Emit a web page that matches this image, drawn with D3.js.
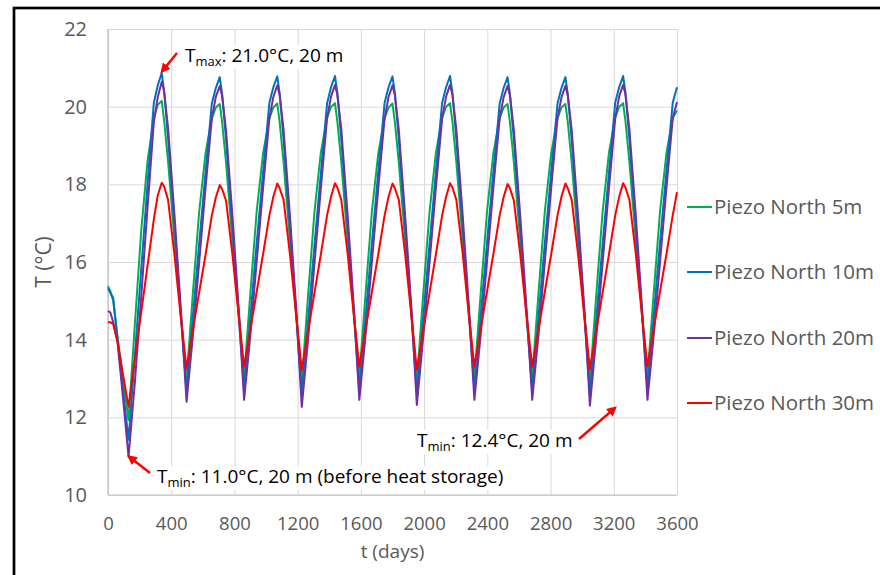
<!DOCTYPE html>
<html>
<head>
<meta charset="utf-8">
<script src="https://cdn.jsdelivr.net/npm/d3@7"></script>
<style>
  body { margin: 0; background: #fff; }
  svg { display: block; }
  text { font-family: "Open Sans", "Noto Sans", sans-serif; }
</style>
</head>
<body>
<div id="chart"></div>
<script>
// Time axis (days) shared by all four piezometers
const days = [
  0, 15, 33, 60, 95,
  130, 170, 210, 250, 290, 315, 340, 355, 380, 420, 460,
  497, 537, 577, 617, 657, 682, 707, 722, 747, 787, 827,
  861, 901, 941, 981, 1021, 1046, 1071, 1086, 1111, 1151, 1191,
  1226, 1266, 1306, 1346, 1386, 1411, 1436, 1451, 1476, 1516, 1556,
  1590, 1630, 1670, 1710, 1750, 1775, 1800, 1815, 1840, 1880, 1920,
  1954, 1994, 2034, 2074, 2114, 2139, 2164, 2179, 2204, 2244, 2284,
  2318, 2358, 2398, 2438, 2478, 2503, 2528, 2543, 2568, 2608, 2648,
  2684, 2724, 2764, 2804, 2844, 2869, 2894, 2909, 2934, 2974, 3014,
  3049, 3089, 3129, 3169, 3209, 3234, 3259, 3274, 3299, 3339, 3379,
  3413, 3453, 3493, 3533, 3573, 3600
];

const piezo5m = [
  15.38, 15.25, 15.0, 14.1, 13.0,
  11.93, 14.4, 16.8, 18.6, 19.7, 20.05, 20.15, 19.65, 18.6, 16.6, 14.7,
  12.98, 15.2, 17.3, 18.8, 19.7, 19.98, 20.07, 19.6, 18.55, 16.55, 14.7,
  13.02, 15.22, 17.32, 18.8, 19.7, 19.98, 20.08, 19.6, 18.56, 16.56, 14.7,
  12.9, 15.15, 17.28, 18.8, 19.71, 20.0, 20.09, 19.62, 18.57, 16.56, 14.7,
  13.02, 15.22, 17.32, 18.8, 19.7, 19.98, 20.08, 19.6, 18.56, 16.56, 14.7,
  12.92, 15.16, 17.28, 18.8, 19.71, 20.0, 20.09, 19.62, 18.57, 16.56, 14.7,
  13.0, 15.2, 17.3, 18.8, 19.7, 19.98, 20.07, 19.6, 18.55, 16.55, 14.7,
  13.02, 15.22, 17.32, 18.8, 19.7, 19.98, 20.07, 19.6, 18.55, 16.55, 14.7,
  12.9, 15.15, 17.28, 18.8, 19.71, 20.0, 20.09, 19.62, 18.57, 16.56, 14.7,
  13.04, 15.22, 17.32, 18.8, 19.7, 19.9
];

const piezo10m = [
  15.32, 15.2, 15.07, 14.0, 12.7,
  11.42, 13.6, 15.8, 18.0, 20.1, 20.55, 20.87, 20.4, 19.2, 16.95, 14.65,
  12.68, 14.58, 16.48, 18.3, 20.08, 20.48, 20.76, 20.33, 19.15, 16.9, 14.6,
  12.72, 14.6, 16.5, 18.3, 20.1, 20.5, 20.78, 20.35, 19.15, 16.92, 14.6,
  12.58, 14.5, 16.42, 18.25, 20.08, 20.5, 20.79, 20.36, 19.17, 16.9, 14.62,
  12.72, 14.6, 16.5, 18.32, 20.1, 20.5, 20.78, 20.35, 19.15, 16.9, 14.6,
  12.62, 14.55, 16.45, 18.28, 20.1, 20.5, 20.79, 20.36, 19.16, 16.9, 14.6,
  12.72, 14.6, 16.5, 18.3, 20.08, 20.48, 20.76, 20.33, 19.15, 16.9, 14.62,
  12.72, 14.6, 16.5, 18.3, 20.08, 20.48, 20.76, 20.33, 19.14, 16.88, 14.6,
  12.6, 14.52, 16.44, 18.27, 20.1, 20.5, 20.79, 20.36, 19.17, 16.9, 14.62,
  12.74, 14.62, 16.52, 18.32, 20.1, 20.5
];

const piezo20m = [
  14.74, 14.7, 14.45, 13.95, 12.5,
  10.99, 12.9, 15.1, 17.4, 19.6, 20.25, 20.64, 20.4, 19.45, 17.25, 14.85,
  12.40, 14.1, 16.0, 17.9, 19.7, 20.25, 20.53, 20.28, 19.38, 17.2, 14.8,
  12.45, 14.12, 16.02, 17.9, 19.7, 20.25, 20.55, 20.3, 19.4, 17.2, 14.78,
  12.27, 14.0, 15.95, 17.86, 19.7, 20.26, 20.56, 20.31, 19.42, 17.22, 14.8,
  12.45, 14.12, 16.02, 17.9, 19.7, 20.25, 20.55, 20.3, 19.4, 17.2, 14.8,
  12.32, 14.05, 15.97, 17.88, 19.7, 20.26, 20.56, 20.31, 19.41, 17.21, 14.8,
  12.45, 14.12, 16.02, 17.9, 19.7, 20.24, 20.54, 20.29, 19.39, 17.2, 14.8,
  12.45, 14.12, 16.02, 17.9, 19.7, 20.24, 20.54, 20.29, 19.39, 17.2, 14.78,
  12.30, 14.04, 15.96, 17.87, 19.7, 20.26, 20.56, 20.31, 19.41, 17.22, 14.8,
  12.45, 14.12, 16.02, 17.9, 19.7, 20.12
];

const piezo30m = [
  14.45, 14.45, 14.4, 13.95, 13.1,
  12.27, 13.5, 14.7, 15.9, 17.1, 17.72, 18.04, 17.95, 17.6, 16.2, 14.6,
  13.26, 14.25, 15.22, 16.18, 17.2, 17.66, 17.98, 17.88, 17.58, 16.2, 14.62,
  13.30, 14.27, 15.24, 16.2, 17.2, 17.68, 18.02, 17.9, 17.6, 16.2, 14.6,
  13.22, 14.22, 15.2, 16.18, 17.2, 17.68, 18.03, 17.92, 17.6, 16.22, 14.6,
  13.31, 14.27, 15.24, 16.2, 17.2, 17.68, 18.02, 17.9, 17.6, 16.2, 14.6,
  13.22, 14.22, 15.2, 16.18, 17.2, 17.68, 18.03, 17.92, 17.6, 16.22, 14.6,
  13.30, 14.27, 15.24, 16.2, 17.2, 17.67, 18.01, 17.9, 17.58, 16.2, 14.62,
  13.30, 14.27, 15.24, 16.2, 17.2, 17.68, 18.02, 17.9, 17.6, 16.2, 14.6,
  13.24, 14.23, 15.2, 16.18, 17.2, 17.68, 18.03, 17.92, 17.6, 16.22, 14.6,
  13.32, 14.28, 15.25, 16.2, 17.2, 17.8
];

const seriesNames = ["Piezo North 5m", "Piezo North 10m", "Piezo North 20m", "Piezo North 30m"];
const seriesColors = ["#00b050", "#0070c0", "#7030a0", "#ff0000"];
const seriesValues = [piezo5m, piezo10m, piezo20m, piezo30m];

const xTicks = [0, 400, 800, 1200, 1600, 2000, 2400, 2800, 3200, 3600];
const yTicks = [10, 12, 14, 16, 18, 20, 22];

// annotation texts (T + subscript + rest) and the point each arrow marks
const notes = [
  { sub: "max", rest: ": 21.0°C, 20 m", tip: [340, 20.9] },
  { sub: "min", rest: ": 11.0°C, 20 m (before heat storage)", tip: [130, 11.0] },
  { sub: "min", rest: ": 12.4°C, 20 m", tip: [3210, 12.25] }
];

const width = 880, height = 575;
const margin = { left: 108, right: 203, top: 29, bottom: 80 };

const svg = d3.select("#chart").append("svg")
    .attr("width", width)
    .attr("height", height);

// outer frame of the figure (runs off right/bottom edge)
svg.append("rect")
    .attr("x", 14).attr("y", 8)
    .attr("width", 900).attr("height", 600)
    .attr("fill", "none")
    .attr("stroke", "#000")
    .attr("stroke-width", 2.7);

const x = d3.scaleLinear([0, 3600], [margin.left, width - margin.right]);
const y = d3.scaleLinear([10, 22], [height - margin.bottom, margin.top]);

// gridlines
svg.append("g")
    .attr("transform", `translate(0,${y(10)})`)
    .call(d3.axisBottom(x).tickValues(xTicks).tickSize(-(y(10) - y(22))).tickFormat(""))
    .call(g => g.select(".domain").remove())
    .call(g => g.selectAll("line").attr("stroke", "#d9d9d9").attr("stroke-width", 1));

svg.append("g")
    .attr("transform", `translate(${x(0)},0)`)
    .call(d3.axisLeft(y).tickValues(yTicks).tickSize(-(x(3600) - x(0))).tickFormat(""))
    .call(g => g.select(".domain").remove())
    .call(g => g.selectAll("line").attr("stroke", "#d9d9d9").attr("stroke-width", 1));

// axis lines
svg.append("line")
    .attr("x1", x(0)).attr("x2", x(0)).attr("y1", y(22)).attr("y2", y(10))
    .attr("stroke", "#bfbfbf").attr("stroke-width", 1.2);
svg.append("line")
    .attr("x1", x(0)).attr("x2", x(3600)).attr("y1", y(10)).attr("y2", y(10))
    .attr("stroke", "#bfbfbf").attr("stroke-width", 1.2);

// tick labels
svg.append("g")
    .attr("transform", `translate(0,${y(10)})`)
    .call(d3.axisBottom(x).tickValues(xTicks).tickSize(0).tickPadding(0).tickFormat(d3.format("d")))
    .call(g => g.select(".domain").remove())
    .call(g => g.selectAll("text")
        .attr("y", 35).attr("dy", null)
        .attr("fill", "#595959")
        .style("font-size", "18.5px")
        .style("font-family", "'Open Sans', sans-serif"));

svg.append("g")
    .attr("transform", `translate(${x(0)},0)`)
    .call(d3.axisLeft(y).tickValues(yTicks).tickSize(0).tickPadding(21).tickFormat(d3.format("d")))
    .call(g => g.select(".domain").remove())
    .call(g => g.selectAll("text")
        .attr("fill", "#595959")
        .style("font-size", "20px")
        .style("font-family", "'Open Sans', sans-serif"));

// axis titles
svg.append("text")
    .attr("x", (x(0) + x(3600)) / 2)
    .attr("y", 558)
    .attr("text-anchor", "middle")
    .attr("fill", "#595959")
    .style("font-size", "19px")
    .text("t (days)");

svg.append("text")
    .attr("transform", `translate(51,${(y(10) + y(22)) / 2}) rotate(-90)`)
    .attr("text-anchor", "middle")
    .attr("fill", "#595959")
    .style("font-size", "21px")
    .text("T (°C)");

// series lines
const line = d3.line()
    .x((d, i) => x(days[i]))
    .y(d => y(d));

seriesValues.forEach((vals, k) => {
  svg.append("path")
      .datum(vals)
      .attr("fill", "none")
      .attr("stroke", seriesColors[k])
      .attr("stroke-width", 2)
      .attr("stroke-linejoin", "round")
      .attr("d", line);
});

// legend
const legendY = [207, 272, 338, 403];
const legend = svg.append("g");
seriesNames.forEach((name, k) => {
  legend.append("line")
      .attr("x1", 687).attr("x2", 712)
      .attr("y1", legendY[k]).attr("y2", legendY[k])
      .attr("stroke", seriesColors[k])
      .attr("stroke-width", 2);
  legend.append("text")
      .attr("x", 714)
      .attr("y", legendY[k])
      .attr("dy", "0.35em")
      .attr("fill", "#595959")
      .style("font-size", "20.5px")
      .text(name);
});

// annotations with red arrows
svg.append("defs").append("marker")
    .attr("id", "arrow")
    .attr("viewBox", "0 0 10 10")
    .attr("refX", 8).attr("refY", 5)
    .attr("markerWidth", 4).attr("markerHeight", 4)
    .attr("orient", "auto")
  .append("path")
    .attr("d", "M0,0 L10,5 L0,10 z")
    .attr("fill", "#ff0000");

const arrowTails = [[177, 53], [150, 473], [579, 439]];
const textPos = [[185, 62], [157, 483], [417, 447]];

notes.forEach((n, i) => {
  const g = svg.append("g");
  const bg = g.append("rect").attr("fill", "#fff");
  const t = g.append("text")
      .attr("x", textPos[i][0])
      .attr("y", textPos[i][1])
      .attr("fill", "#000")
      .style("font-size", "19px");
  t.append("tspan").text("T");
  t.append("tspan").attr("dy", 4).style("font-size", "13px").text(n.sub);
  t.append("tspan").attr("dy", -4).text(n.rest);
  const b = t.node().getBBox();
  bg.attr("x", b.x - 3).attr("y", b.y + 3)
    .attr("width", b.width + 6).attr("height", b.height - 4);

  svg.append("line")
      .attr("x1", arrowTails[i][0]).attr("y1", arrowTails[i][1])
      .attr("x2", x(n.tip[0])).attr("y2", y(n.tip[1]))
      .attr("stroke", "#ff0000")
      .attr("stroke-width", 2.5)
      .attr("marker-end", "url(#arrow)");
});
</script>
</body>
</html>
